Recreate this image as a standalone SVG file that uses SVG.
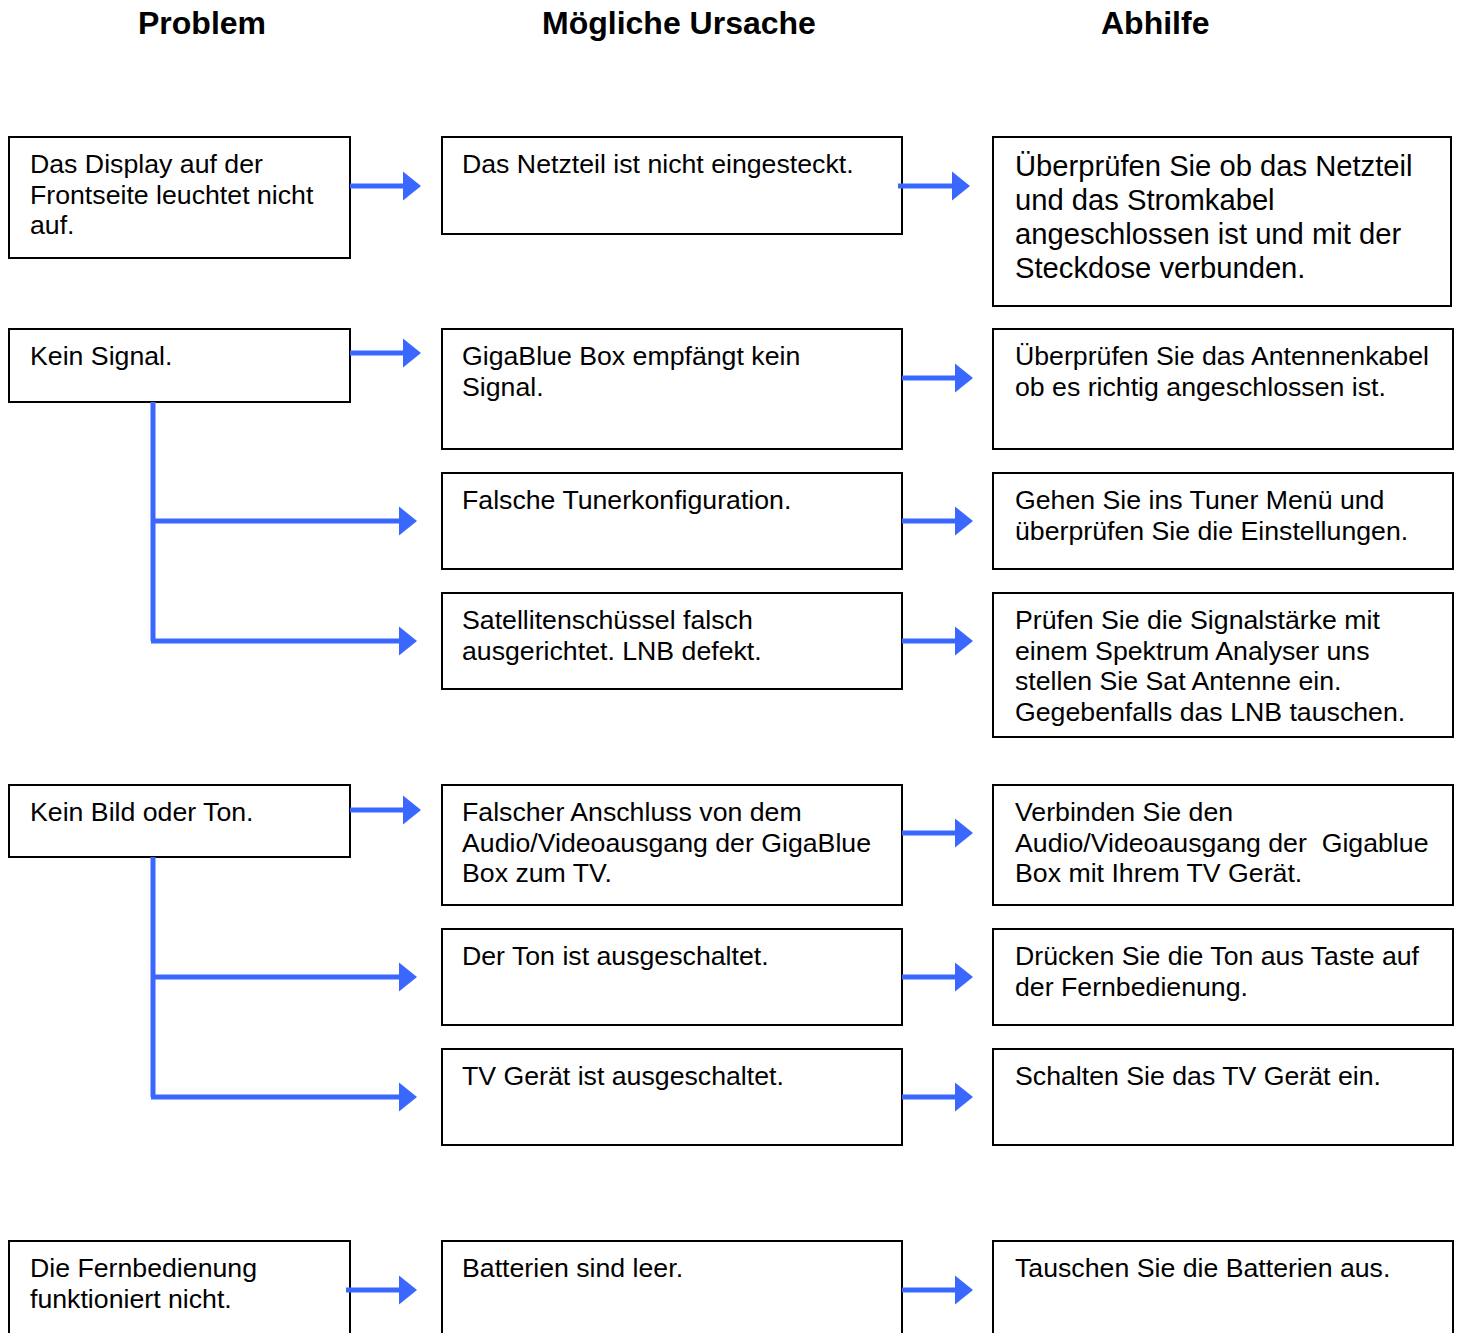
<svg xmlns="http://www.w3.org/2000/svg" width="1462" height="1333" viewBox="0 0 1462 1333">
<style>
.box{fill:#fff;stroke:#000;stroke-width:2}
.t{font-family:"Liberation Sans",Arial,sans-serif;font-size:26.7px;fill:#000}
.tl{font-family:"Liberation Sans",Arial,sans-serif;font-size:29.2px;fill:#000}
.h{font-family:"Liberation Sans",Arial,sans-serif;font-size:32px;font-weight:bold;fill:#000}
.c{fill:none;stroke:#3A68FF;stroke-width:5;marker-end:url(#ah)}
.c2{fill:none;stroke:#3A68FF;stroke-width:5}
</style>
<defs>
<marker id="ah" markerUnits="userSpaceOnUse" markerWidth="18" markerHeight="30" refX="0" refY="14.5" orient="auto" overflow="visible">
<path d="M0,0 L18,14.5 L0,29 Z" fill="#3A68FF"/>
</marker>
</defs>
<rect width="1462" height="1333" fill="#fff"/>
<g id="headers">
<text class="h" x="138" y="34">Problem</text>
<text class="h" x="542" y="34">Mögliche Ursache</text>
<text class="h" x="1101" y="34">Abhilfe</text>
</g>
<g id="p1"><rect class="box" x="9" y="137" width="341" height="121"/>
<text class="t" x="30" y="173">Das Display auf der</text>
<text class="t" x="30" y="204">Frontseite leuchtet nicht</text>
<text class="t" x="30" y="234">auf.</text></g>
<g id="u1"><rect class="box" x="442" y="137" width="460" height="97"/>
<text class="t" x="462" y="173">Das Netzteil ist nicht eingesteckt.</text></g>
<g id="a1"><rect class="box" x="993" y="137" width="458" height="169"/>
<text class="tl" x="1015" y="176">Überprüfen Sie ob das Netzteil</text>
<text class="tl" x="1015" y="210">und das Stromkabel</text>
<text class="tl" x="1015" y="244">angeschlossen ist und mit der</text>
<text class="tl" x="1015" y="278">Steckdose verbunden.</text></g>

<g id="p2"><rect class="box" x="9" y="329" width="341" height="73"/>
<text class="t" x="30" y="365">Kein Signal.</text></g>
<g id="u2"><rect class="box" x="442" y="329" width="460" height="120"/>
<text class="t" x="462" y="365">GigaBlue Box empfängt kein</text>
<text class="t" x="462" y="396">Signal.</text></g>
<g id="a2"><rect class="box" x="993" y="329" width="460" height="120"/>
<text class="t" x="1015" y="365">Überprüfen Sie das Antennenkabel</text>
<text class="t" x="1015" y="396">ob es richtig angeschlossen ist.</text></g>
<g id="u3"><rect class="box" x="442" y="473" width="460" height="96"/>
<text class="t" x="462" y="509">Falsche Tunerkonfiguration.</text></g>
<g id="a3"><rect class="box" x="993" y="473" width="460" height="96"/>
<text class="t" x="1015" y="509">Gehen Sie ins Tuner Menü und</text>
<text class="t" x="1015" y="540">überprüfen Sie die Einstellungen.</text></g>
<g id="u4"><rect class="box" x="442" y="593" width="460" height="96"/>
<text class="t" x="462" y="629">Satellitenschüssel falsch</text>
<text class="t" x="462" y="660">ausgerichtet. LNB defekt.</text></g>
<g id="a4"><rect class="box" x="993" y="593" width="460" height="144"/>
<text class="t" x="1015" y="629">Prüfen Sie die Signalstärke mit</text>
<text class="t" x="1015" y="660">einem Spektrum Analyser uns</text>
<text class="t" x="1015" y="690">stellen Sie Sat Antenne ein.</text>
<text class="t" x="1015" y="721">Gegebenfalls das LNB tauschen.</text></g>

<g id="p3"><rect class="box" x="9" y="785" width="341" height="72"/>
<text class="t" x="30" y="821">Kein Bild oder Ton.</text></g>
<g id="u5"><rect class="box" x="442" y="785" width="460" height="120"/>
<text class="t" x="462" y="821">Falscher Anschluss von dem</text>
<text class="t" x="462" y="852">Audio/Videoausgang der GigaBlue</text>
<text class="t" x="462" y="882">Box zum TV.</text></g>
<g id="a5"><rect class="box" x="993" y="785" width="460" height="120"/>
<text class="t" x="1015" y="821">Verbinden Sie den</text>
<text class="t" x="1015" y="852" xml:space="preserve">Audio/Videoausgang der  Gigablue</text>
<text class="t" x="1015" y="882">Box mit Ihrem TV Gerät.</text></g>
<g id="u6"><rect class="box" x="442" y="929" width="460" height="96"/>
<text class="t" x="462" y="965">Der Ton ist ausgeschaltet.</text></g>
<g id="a6"><rect class="box" x="993" y="929" width="460" height="96"/>
<text class="t" x="1015" y="965">Drücken Sie die Ton aus Taste auf</text>
<text class="t" x="1015" y="996">der Fernbedienung.</text></g>
<g id="u7"><rect class="box" x="442" y="1049" width="460" height="96"/>
<text class="t" x="462" y="1085">TV Gerät ist ausgeschaltet.</text></g>
<g id="a7"><rect class="box" x="993" y="1049" width="460" height="96"/>
<text class="t" x="1015" y="1085">Schalten Sie das TV Gerät ein.</text></g>

<g id="p4"><rect class="box" x="9" y="1241" width="341" height="120"/>
<text class="t" x="30" y="1277">Die Fernbedienung</text>
<text class="t" x="30" y="1308">funktioniert nicht.</text></g>
<g id="u8"><rect class="box" x="442" y="1241" width="460" height="120"/>
<text class="t" x="462" y="1277">Batterien sind leer.</text></g>
<g id="a8"><rect class="box" x="993" y="1241" width="460" height="120"/>
<text class="t" x="1015" y="1277">Tauschen Sie die Batterien aus.</text></g>

<g id="connectors">
<line class="c" x1="350" y1="186" x2="403" y2="186"/>
<line class="c" x1="898" y1="186" x2="952" y2="186"/>
<line class="c" x1="350" y1="353" x2="403" y2="353"/>
<line class="c" x1="902" y1="378" x2="955" y2="378"/>
<polyline class="c2" points="153,402 153,641"/>
<line class="c" x1="153" y1="521" x2="399" y2="521"/>
<line class="c" x1="151" y1="641" x2="399" y2="641"/>
<line class="c" x1="902" y1="521" x2="955" y2="521"/>
<line class="c" x1="902" y1="641" x2="955" y2="641"/>
<line class="c" x1="350" y1="810" x2="403" y2="810"/>
<line class="c" x1="902" y1="833" x2="955" y2="833"/>
<polyline class="c2" points="153,857 153,1097"/>
<line class="c" x1="153" y1="977" x2="399" y2="977"/>
<line class="c" x1="151" y1="1097" x2="399" y2="1097"/>
<line class="c" x1="902" y1="977" x2="955" y2="977"/>
<line class="c" x1="902" y1="1097" x2="955" y2="1097"/>
<line class="c" x1="346" y1="1290" x2="399" y2="1290"/>
<line class="c" x1="902" y1="1290" x2="955" y2="1290"/>
</g>
</svg>
